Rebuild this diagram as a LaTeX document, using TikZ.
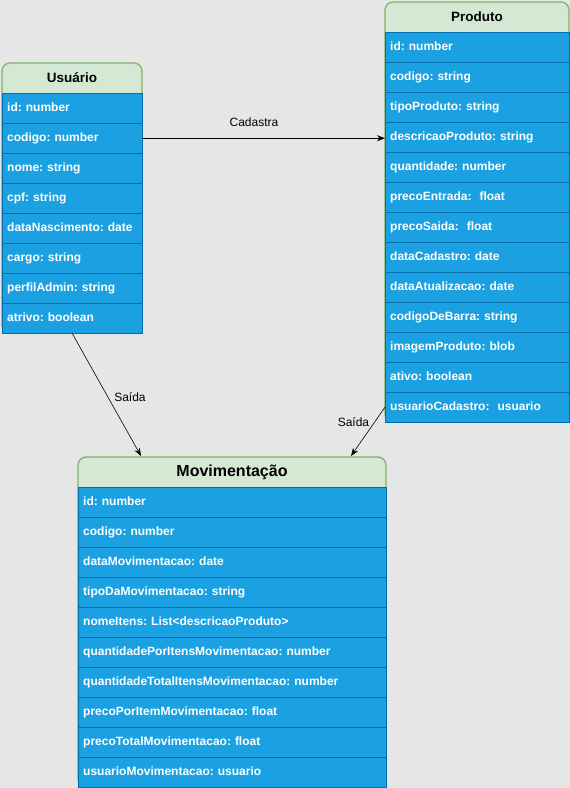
\documentclass[tikz,border=0pt]{standalone}
\usepackage{fontspec}
\setmainfont{Liberation Sans}
\usetikzlibrary{arrows.meta, positioning}
\frenchspacing

\definecolor{canvas}{HTML}{E6E6E6}
\definecolor{headfill}{HTML}{D5E8D4}
\definecolor{headline}{HTML}{82B366}
\definecolor{rowfill}{HTML}{1BA1E2}
\definecolor{rowline}{HTML}{006EAF}

\tikzset{
  tablebox/.style = {draw = headline, fill = headfill, line width = 1.3pt, rounded corners = 8pt},
  header/.style = {font = \bfseries\fontsize{13.5}{16}\selectfont, inner sep = 0pt},
  field/.style = {draw = rowline, fill = rowfill, text = white, anchor = north west,
    font = \bfseries\fontsize{12}{14}\selectfont, text width = #1, align = left,
    inner xsep = 5pt, inner ysep = 0pt, minimum height = 30pt,
    text height = 9pt, text depth = 3pt},
  link/.style = {-{Stealth[length = 8pt, width = 6pt]}, line width = 0.6pt},
  linklabel/.style = {font = \fontsize{12}{14}\selectfont, inner sep = 0pt}
}

\begin{document}
\begin{tikzpicture}[x = 1pt, y = -1pt]
		% canvas
		\fill [canvas] (0,0) rectangle (570,788);
		\useasboundingbox (0,0) rectangle (570,788);

		% Usuario
		\def\ux{2};
		\def\uy{63};
		\draw [tablebox] (\ux,\uy) rectangle ++(140,270);
		\node [header] (usuario) at (\ux+70,\uy+15) {Usuário};
		\foreach \f [count = \i] in {id: number, codigo: number, nome: string, cpf: string,
			dataNascimento: date, cargo: string, perfilAdmin: string, atrivo: boolean}
			\node [field = 130pt] (usu-\i) at (\ux,\uy+30*\i) {\f};

		% Produto
		\def\px{385};
		\def\py{2};
		\draw [tablebox] (\px,\py) rectangle ++(184,420);
		\node [header] (produto) at (\px+92,\py+15) {Produto};
		\foreach \f [count = \i] in {id: number, codigo: string, tipoProduto: string,
			descricaoProduto: string, quantidade: number, precoEntrada:\ \ float,
			precoSaida:\ \ float, dataCadastro: date, dataAtualizacao: date,
			codigoDeBarra: string, imagemProduto: blob, ativo: boolean,
			usuarioCadastro:\ \ usuario}
			\node [field = 174pt] (prod-\i) at (\px,\py+30*\i) {\f};

		% Movimentacao
		\def\mx{78};
		\def\my{457};
		\draw [tablebox] (\mx,\my) rectangle ++(308,330);
		\node [header, font = \bfseries\fontsize{16}{19}\selectfont] (movimentacao) at (\mx+154,\my+15) {Movimentação};
		\foreach \f [count = \i] in {id: number, codigo: number, dataMovimentacao: date,
			tipoDaMovimentacao: string, nomeItens: List<descricaoProduto>,
			quantidadePorItensMovimentacao: number, quantidadeTotalItensMovimentacao: number,
			precoPorItemMovimentacao: float, precoTotalMovimentacao: float,
			usuarioMovimentacao: usuario}
			\node [field = 298pt] (mov-\i) at (\mx,\my+30*\i) {\f};

		% relations
		\coordinate (mov-in-1) at (141,456);
		\coordinate (mov-in-2) at (351,456);

		\draw [link] (usu-2.east) -- (usu-2.east -| prod-4.west)
			node [linklabel, pos = 0.46, yshift = 16pt] {Cadastra};
		\draw [link] (usu-8.south) -- (mov-in-1)
			node [linklabel, pos = 0.52, xshift = 22pt] {Saída};
		\draw [link] (prod-13.west) -- (mov-in-2)
			node [linklabel, pos = 0.31, xshift = -21pt] {Saída};
	\end{tikzpicture}
\end{document}
